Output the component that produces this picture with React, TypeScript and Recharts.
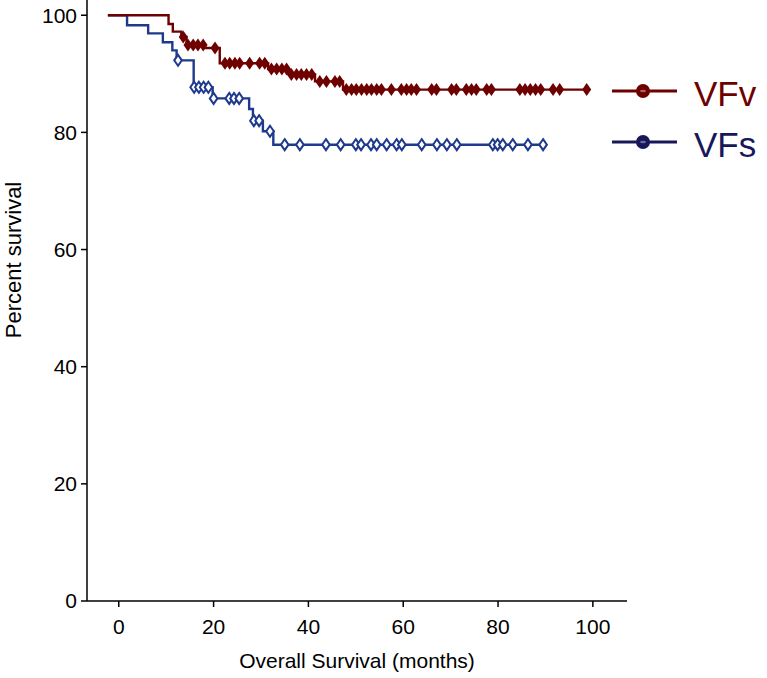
import React from 'react';
import { ComposedChart, Line, Scatter, XAxis, YAxis } from 'recharts';

// ---- data (months, percent survival) ----
const seriesNames = ['VFv', 'VFs'];
const xTicks = [0, 20, 40, 60, 80, 100];
const yTicks = [0, 20, 40, 60, 80, 100];

// VFv step changes
const vfvStepTimes = [-2.3, 10.5, 11.4, 13.2, 14.3, 18.1, 21.3, 31.5, 35.9, 41.4, 47.3];
const vfvStepSurv = [100, 98.5, 97.2, 96.3, 94.9, 94.4, 91.8, 90.8, 89.9, 88.7, 87.3];
// VFv censored times
const vfvCensor = [13.6, 14.6, 15.7, 16.7, 17.8, 20.3, 22.4, 23.4, 24.5, 25.5, 27.6, 29.7, 30.8,
  32.2, 33.3, 34.4, 35.4, 36.4, 37.5, 38.5, 39.6, 40.7, 42.4, 43.8, 45.6, 46.6,
  48.0, 49.1, 50.1, 51.2, 52.3, 53.3, 54.4, 55.4, 57.5, 59.6, 60.7, 61.7, 62.8, 66.0, 67.0,
  70.2, 71.2, 73.3, 74.4, 75.4, 77.6, 78.6, 84.6, 85.7, 86.8, 87.9, 89.0, 91.6, 93.0, 98.7];

// VFs step changes
const vfsStepTimes = [-2.3, 1.75, 6.2, 9.3, 11.3, 12.2, 15.8, 19.8, 27.5, 28.3, 30.4, 32.6];
const vfsStepSurv = [100, 98.3, 96.9, 95.4, 94.0, 92.3, 87.7, 85.8, 84.0, 82.0, 80.2, 77.9];
// VFs censored times
const vfsCensor = [12.5, 15.9, 16.9, 17.9, 18.9, 20.0, 23.3, 24.3, 25.4, 28.5, 29.6, 31.9,
  35.0, 38.2, 43.7, 46.8, 50.0, 51.1, 53.2, 54.4, 56.5, 58.6, 59.7, 63.9, 67.1, 69.2, 71.3,
  78.9, 79.9, 81.0, 83.1, 86.3, 89.5];

// ---- helpers ----
const survAt = (times: number[], surv: number[], t: number) => {
  let s = surv[0];
  for (let i = 0; i < times.length; i++) if (times[i] <= t) s = surv[i];
  return s;
};
const stepData = (times: number[], surv: number[], censor: number[]) => {
  const pts = times.map((t, i) => ({ t, s: surv[i] }));
  const end = censor[censor.length - 1];
  pts.push({ t: end, s: survAt(times, surv, end) });
  return pts;
};
const censorData = (times: number[], surv: number[], censor: number[]) =>
  censor.map((t) => ({ t, s: survAt(times, surv, t) }));

const vfvLine = stepData(vfvStepTimes, vfvStepSurv, vfvCensor);
const vfsLine = stepData(vfsStepTimes, vfsStepSurv, vfsCensor);
const vfvMarks = censorData(vfvStepTimes, vfvStepSurv, vfvCensor);
const vfsMarks = censorData(vfsStepTimes, vfsStepSurv, vfsCensor);

const RED = '#6e0000';
const BLUE = '#1f3a8c';
const NAVY = '#17175a';
const FONT = '"Liberation Sans", Arial, sans-serif';

const RedDiamond = (p: any) => (
  <path d={`M${p.cx},${p.cy - 6.5}L${p.cx + 4.5},${p.cy}L${p.cx},${p.cy + 6.5}L${p.cx - 4.5},${p.cy}Z`} fill={RED} />
);
const BlueDiamond = (p: any) => (
  <path d={`M${p.cx},${p.cy - 5.5}L${p.cx + 3.8},${p.cy}L${p.cx},${p.cy + 5.5}L${p.cx - 3.8},${p.cy}Z`} fill="#fff" stroke={BLUE} strokeWidth={2} />
);

const YLabel = () => (
  <text x={21} y={260} transform="rotate(-90 21 260)" textAnchor="middle" fontSize={22} fontFamily={FONT} fill="#000">
    Percent survival
  </text>
);
const XLabel = (props: any) => {
  const vb = props.viewBox || { x: 87, width: 540 };
  return (
    <text x={vb.x + vb.width / 2} y={668} textAnchor="middle" fontSize={21} fontFamily={FONT} fill="#000">
      Overall Survival (months)
    </text>
  );
};

const legendColors = [
  { line: RED, text: RED, hi: '#b06060' },
  { line: NAVY, text: NAVY, hi: '#6a6aa0' },
];

export default function App() {
  return (
    <div style={{ position: 'absolute', left: 0, top: 0, width: 767, height: 678, background: '#fff' }}>
      <ComposedChart width={767} height={678} margin={{ top: 0, right: 140, bottom: 0, left: 27 }}>
        <XAxis
          type="number"
          dataKey="t"
          domain={[-6.7, 107.2]}
          ticks={xTicks}
          allowDataOverflow
          height={77}
          tickSize={6}
          tickMargin={12}
          axisLine={{ stroke: '#000', strokeWidth: 1.5 }}
          tickLine={{ stroke: '#000', strokeWidth: 1.5 }}
          tick={{ fill: '#000', fontSize: 21, fontFamily: FONT }}
          label={<XLabel />}
        />
        <YAxis
          type="number"
          dataKey="s"
          domain={[0, 102.6]}
          ticks={yTicks}
          allowDataOverflow
          width={60}
          tickSize={6}
          tickMargin={4}
          axisLine={{ stroke: '#000', strokeWidth: 1.5 }}
          tickLine={{ stroke: '#000', strokeWidth: 1.5 }}
          tick={{ fill: '#000', fontSize: 21, fontFamily: FONT }}
          label={<YLabel />}
        />
        <Line data={vfsLine} dataKey="s" type="stepAfter" stroke={BLUE} strokeWidth={2.4} dot={false} isAnimationActive={false} />
        <Line data={vfvLine} dataKey="s" type="stepAfter" stroke={RED} strokeWidth={2.4} dot={false} isAnimationActive={false} />
        <Scatter data={vfsMarks} dataKey="s" shape={BlueDiamond} isAnimationActive={false} />
        <Scatter data={vfvMarks} dataKey="s" shape={RedDiamond} isAnimationActive={false} />
      </ComposedChart>
      <svg width={767} height={678} style={{ position: 'absolute', left: 0, top: 0, pointerEvents: 'none' }}>
        {seriesNames.map((name, i) => {
          const y = 91 + i * 51;
          const c = legendColors[i];
          return (
            <g key={name}>
              <line x1={612} x2={677} y1={y} y2={y} stroke={c.line} strokeWidth={3} />
              <circle cx={643} cy={y} r={7} fill={c.line} />
              <ellipse cx={643} cy={y} rx={3} ry={1.2} fill={c.hi} />
              <text x={694} y={y + 15} fontSize={35} fontFamily={FONT} fill={c.text}>
                {name}
              </text>
            </g>
          );
        })}
      </svg>
    </div>
  );
}
